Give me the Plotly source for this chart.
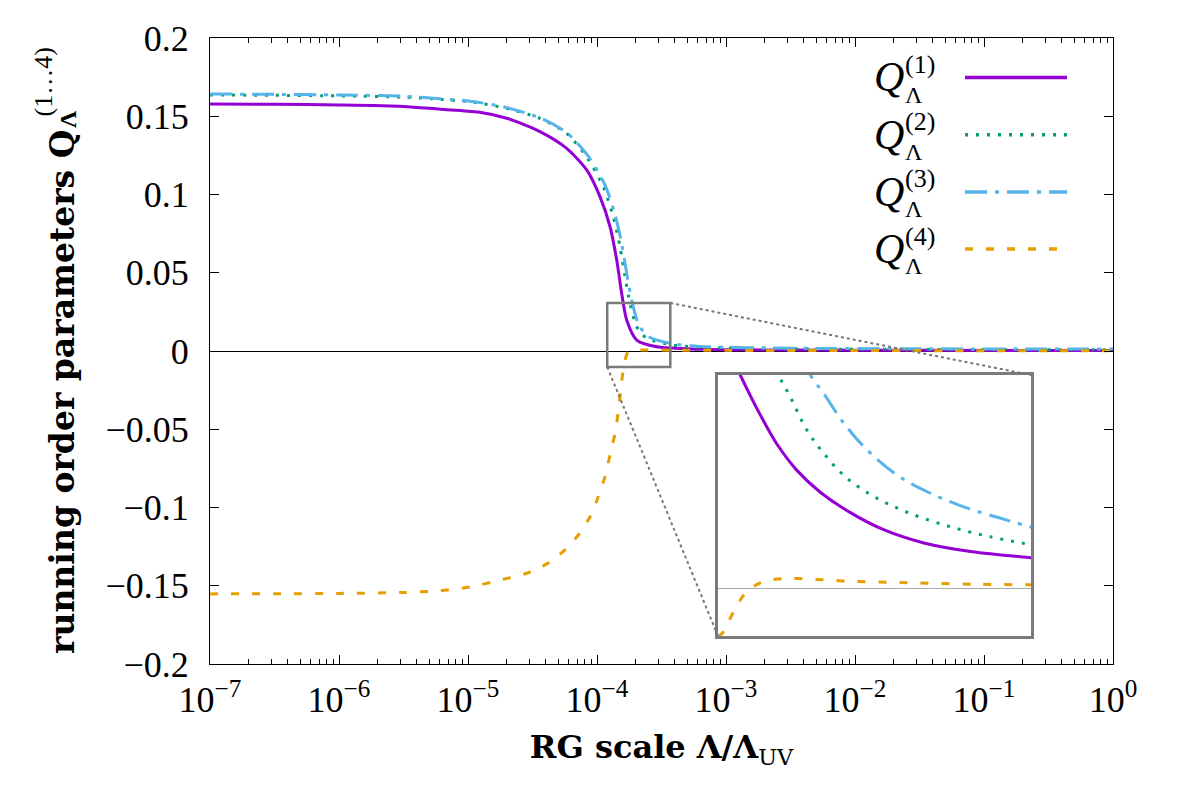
import math
import plotly.graph_objects as go

# --- data (main panel) ---
q1_x = [1e-7, 3.16e-7, 1e-6, 3.16e-6, 6.07e-6, 1.2e-5, 2.0e-5, 3.61e-5, 5.82e-5, 8.32e-5,
        1.054e-4, 1.262e-4, 1.422e-4, 1.552e-4, 1.698e-4, 2.032e-4, 2.904e-4, 6.28e-4,
        3.16e-3, 3.16e-2, 1.0]
q1_y = [0.1578, 0.1576, 0.1572, 0.1563, 0.1545, 0.1527, 0.1487, 0.1402, 0.1295, 0.1157,
        0.0986, 0.0794, 0.0581, 0.0369, 0.0198, 0.0070, 0.0027, 0.0011,
        0.0006, 0.0004, 0.0003]

q2_x = [1e-7, 3.16e-7, 1e-6, 3.16e-6, 6.07e-6, 1.099e-5, 2.0e-5, 3.61e-5, 5.82e-5, 8.32e-5,
        1.119e-4, 1.337e-4, 1.507e-4, 1.648e-4, 1.803e-4, 2.032e-4, 2.427e-4, 3.908e-4,
        6.28e-4, 3.16e-3, 3.16e-2, 1.0]
q2_y = [0.1636, 0.1634, 0.1630, 0.1622, 0.1608, 0.1590, 0.1550, 0.1487, 0.1390, 0.1240,
        0.1050, 0.0858, 0.0667, 0.0475, 0.0305, 0.0155, 0.0081, 0.0038,
        0.0024, 0.0014, 0.0010, 0.0008]

q3_x = [1e-7, 3.16e-7, 1e-6, 3.16e-6, 6.07e-6, 1.099e-5, 2.0e-5, 3.61e-5, 5.82e-5, 8.5e-5,
        1.155e-4, 1.384e-4, 1.56e-4, 1.706e-4, 1.866e-4, 2.103e-4, 2.51e-4, 3.908e-4,
        6.28e-4, 3.16e-3, 3.16e-2, 1.0]
q3_y = [0.1642, 0.1640, 0.1636, 0.1628, 0.1612, 0.1594, 0.1555, 0.1490, 0.1395, 0.1248,
        0.1060, 0.0868, 0.0678, 0.0487, 0.0318, 0.0168, 0.0092, 0.0045,
        0.0029, 0.0018, 0.0014, 0.0012]

q4_x = [1e-7, 3.16e-7, 1e-6, 3.16e-6, 6.07e-6, 1.038e-5, 1.875e-5, 2.85e-5, 4.07e-5, 5.48e-5,
        7.16e-5, 8.83e-5, 1.023e-4, 1.153e-4, 1.262e-4, 1.38e-4, 1.462e-4, 1.528e-4,
        1.60e-4, 1.75e-4, 2.286e-4, 3.98e-4, 1e-3, 1e-2, 1e-1, 1.0]
q4_y = [-0.1552, -0.1551, -0.1549, -0.1543, -0.1532, -0.1508, -0.1459, -0.1420, -0.1360, -0.1280,
        -0.1176, -0.1059, -0.0931, -0.0803, -0.0665, -0.0526, -0.0388, -0.0249,
        -0.0121, -0.0004, 0.0006, 0.0005, 0.0004, 0.0003, 0.0002, 0.0002]

# --- data ---
in_q1_x = [1.26e-4, 1.30e-4, 1.397e-4, 1.484e-4, 1.594e-4, 1.734e-4, 1.932e-4, 2.178e-4,
           2.517e-4, 2.978e-4, 3.71e-4]
in_q1_y = [0.049, 0.0450, 0.0366, 0.0304, 0.0249, 0.0203, 0.0160, 0.0124, 0.0096, 0.0078, 0.0065]

in_q2_x = [1.475e-4, 1.503e-4, 1.556e-4, 1.652e-4, 1.755e-4, 1.910e-4, 2.128e-4, 2.399e-4,
           2.771e-4, 3.199e-4, 3.71e-4]
in_q2_y = [0.046, 0.0441, 0.0404, 0.0334, 0.0285, 0.0232, 0.0190, 0.0158, 0.0130, 0.0109, 0.0092]

in_q3_x = [1.632e-4, 1.673e-4, 1.755e-4, 1.888e-4, 2.052e-4, 2.287e-4, 2.547e-4, 2.905e-4,
           3.319e-4, 3.71e-4]
in_q3_y = [0.0485, 0.0450, 0.0411, 0.0348, 0.0292, 0.0239, 0.0204, 0.0172, 0.0148, 0.0129]

in_q4_x = [1.2e-4, 1.224e-4, 1.269e-4, 1.324e-4, 1.397e-4, 1.484e-4, 1.594e-4, 1.888e-4,
           2.399e-4, 3.05e-4, 3.71e-4]
in_q4_y = [-0.0102, -0.0091, -0.0049, -0.0010, 0.0012, 0.0020, 0.0021, 0.0016, 0.0012, 0.0009, 0.0008]

labels = ["(1)", "(2)", "(3)", "(4)"]
x_tickvals = [1e-7, 1e-6, 1e-5, 1e-4, 1e-3, 1e-2, 1e-1, 1]
x_ticktext = ["10<sup>−7</sup>", "10<sup>−6</sup>", "10<sup>−5</sup>", "10<sup>−4</sup>",
              "10<sup>−3</sup>", "10<sup>−2</sup>", "10<sup>−1</sup>", "10<sup>0</sup>"]
y_tickvals = [0.2, 0.15, 0.1, 0.05, 0, -0.05, -0.1, -0.15, -0.2]
y_ticktext = ["0.2", "0.15", "0.1", "0.05", "0", "−0.05", "−0.1", "−0.15", "−0.2"]

# zoom window shown in the inset
zoom_x = [1.2e-4, 3.7e-4]
zoom_y = [-0.0102, 0.0307]
inset_yrange = [-0.01, 0.045]

colors = ["#9400D3", "#009E73", "#56B4E9", "#E69F00"]
dashes = ["solid", "3px,8px", "22px,8px,4px,8px", "8px,13px"]
SERIF = "Liberation Serif"
BOLD = "DejaVu Serif"

main = [(q1_x, q1_y), (q2_x, q2_y), (q3_x, q3_y), (q4_x, q4_y)]
inset = [(in_q1_x, in_q1_y), (in_q2_x, in_q2_y), (in_q3_x, in_q3_y), (in_q4_x, in_q4_y)]

fig = go.Figure()
for (x, y), c, d in zip(main, colors, dashes):
    fig.add_trace(go.Scatter(x=x, y=y, mode="lines", showlegend=False,
                             line=dict(color=c, width=3, dash=d, shape="spline", smoothing=0.7)))
for (x, y), c, d in zip(inset, colors, dashes):
    fig.add_trace(go.Scatter(x=x, y=y, mode="lines", showlegend=False, xaxis="x2", yaxis="y2",
                             line=dict(color=c, width=3, dash=d, shape="spline", smoothing=1.0)))

# the page puts the figure 8px in from the top-left corner
OFF = 8
W, H = 1181, 787
ML, MR, MT, MB = 202, 76, 30, 131
pw, ph = W - ML - MR, H - MT - MB


def sx(px):
    return (px - OFF - ML) / pw


def sy(py):
    return (H - MB - (py - OFF)) / ph


ix0, ix1 = sx(718), sx(1031)
iy0, iy1 = sy(636), sy(375)

fig.update_layout(
    width=W, height=H, autosize=False,
    margin=dict(l=ML, r=MR, t=MT, b=MB),
    plot_bgcolor="white", paper_bgcolor="white",
    font=dict(family=SERIF, size=36, color="black"),
    xaxis=dict(type="log", range=[-7, 0], tickmode="array", tickvals=x_tickvals, ticktext=x_ticktext,
               ticks="inside", ticklen=9, tickwidth=1, tickcolor="black",
               showline=True, linecolor="black", linewidth=1.2, mirror="ticks",
               showgrid=False, zeroline=False, ticklabelstandoff=4,
               minor=dict(ticks="inside", ticklen=5, tickcolor="black", dtick="D1", showgrid=False),
               title=dict(text="<b>RG scale Λ/Λ</b><sub>UV</sub>",
                          font=dict(family=BOLD, size=32), standoff=16)),
    yaxis=dict(range=[-0.2, 0.2], tickmode="array", tickvals=y_tickvals, ticktext=y_ticktext,
               ticks="inside", ticklen=9, tickwidth=1, tickcolor="black",
               showline=True, linecolor="black", linewidth=1.2, mirror="ticks",
               showgrid=False, zeroline=True, zerolinecolor="black", zerolinewidth=1,
               ticklabelstandoff=13),
    xaxis2=dict(type="log", domain=[ix0, ix1], anchor="y2",
                range=[math.log10(zoom_x[0]), math.log10(zoom_x[1])],
                showticklabels=False, ticks="", showgrid=False, zeroline=False,
                showline=True, linecolor="#7a7a7a", linewidth=2.5, mirror=True),
    yaxis2=dict(domain=[iy0, iy1], anchor="x2", range=inset_yrange,
                showticklabels=False, ticks="", showgrid=False,
                zeroline=True, zerolinecolor="#a8a8a8", zerolinewidth=1,
                showline=True, linecolor="#7a7a7a", linewidth=2.5, mirror=True),
)

# zoom rectangle and connectors to the inset
fig.add_shape(type="rect", xref="x", yref="y", x0=zoom_x[0], x1=zoom_x[1], y0=zoom_y[0], y1=zoom_y[1],
              line=dict(color="#7a7a7a", width=2.5), layer="above")


def px_(v):
    return (math.log10(v) + 7) / 7


def py_(v):
    return (v + 0.2) / 0.4


fig.add_shape(type="line", xref="paper", yref="paper", x0=px_(zoom_x[1]), y0=py_(zoom_y[1]),
              x1=ix1, y1=iy1, line=dict(color="#777777", width=2, dash="dot"))
fig.add_shape(type="line", xref="paper", yref="paper", x0=px_(zoom_x[0]), y0=py_(zoom_y[0]),
              x1=ix0, y1=iy0, line=dict(color="#777777", width=2, dash="dot"))

# key (text on the left, sample on the right)
for i, (lab, c, d) in enumerate(zip(labels, colors, dashes)):
    ly = 77.5 + i * 57.2
    fig.add_annotation(x=sx(889), y=sy(ly), xref="paper", yref="paper", text="<i>Q</i>",
                       showarrow=False, font=dict(family=SERIF, size=42), xanchor="center", yanchor="middle")
    fig.add_annotation(x=sx(903), y=sy(ly - 13), xref="paper", yref="paper", text=lab,
                       showarrow=False, font=dict(family=SERIF, size=26), xanchor="left", yanchor="middle")
    fig.add_annotation(x=sx(903), y=sy(ly + 17), xref="paper", yref="paper", text="Λ",
                       showarrow=False, font=dict(family=SERIF, size=24), xanchor="left", yanchor="middle")
    fig.add_shape(type="line", xref="paper", yref="paper", x0=sx(965), x1=sx(1067),
                  y0=sy(ly), y1=sy(ly), line=dict(color=c, width=3.5, dash=d))

# y axis title with stacked super/subscript
fig.add_annotation(x=sx(62), y=sy(128), xref="paper", yref="paper",
                   text="<b>running order parameters Q</b>", textangle=-90, showarrow=False,
                   font=dict(family=BOLD, size=33), xanchor="center", yanchor="top")
fig.add_annotation(x=sx(43), y=sy(46), xref="paper", yref="paper",
                   text="(1…4)", textangle=-90, showarrow=False,
                   font=dict(family=SERIF, size=26), xanchor="center", yanchor="top")
fig.add_annotation(x=sx(68), y=sy(108), xref="paper", yref="paper",
                   text="<b>Λ</b>", textangle=-90, showarrow=False,
                   font=dict(family=SERIF, size=24), xanchor="center", yanchor="top")

fig.write_html("out.html")
